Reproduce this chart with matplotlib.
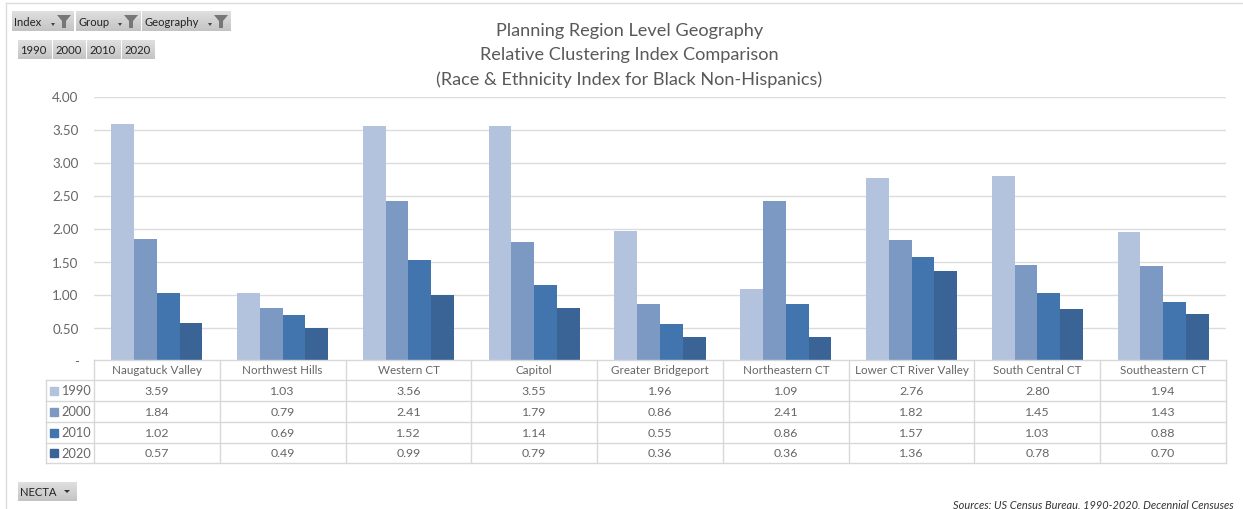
import matplotlib
matplotlib.use("Agg")
import matplotlib.pyplot as plt
from matplotlib.patches import Rectangle
import numpy as np

plt.rcParams['font.family'] = ['Lato', 'DejaVu Sans']

regions = ["Naugatuck Valley", "Northwest Hills", "Western CT", "Capitol", "Greater Bridgeport",
           "Northeastern CT", "Lower CT River Valley", "South Central CT", "Southeastern CT"]
years = ["1990", "2000", "2010", "2020"]
v1990 = [3.59, 1.03, 3.56, 3.55, 1.96, 1.09, 2.76, 2.80, 1.94]
v2000 = [1.84, 0.79, 2.41, 1.79, 0.86, 2.41, 1.82, 1.45, 1.43]
v2010 = [1.02, 0.69, 1.52, 1.14, 0.55, 0.86, 1.57, 1.03, 0.88]
v2020 = [0.57, 0.49, 0.99, 0.79, 0.36, 0.36, 1.36, 0.78, 0.70]
series = [v1990, v2000, v2010, v2020]
colors = ["#b3c3de", "#7c99c4", "#4274ae", "#3a6396"]
yticks = [0, 0.5, 1, 1.5, 2, 2.5, 3, 3.5, 4]
ytick_labels = ["-", "0.50", "1.00", "1.50", "2.00", "2.50", "3.00", "3.50", "4.00"]
title_lines = ["Planning Region Level Geography", "Relative Clustering Index Comparison",
               "(Race & Ethnicity Index for Black Non-Hispanics)"]
buttons_top = [("Index", 12, 74), ("Group", 76, 141), ("Geography", 142, 231)]
buttons_year = [("1990", 18, 52), ("2000", 53, 86), ("2010", 87, 121), ("2020", 122, 155)]

W, H = 1243, 510
fig = plt.figure(figsize=(W / 100, H / 100), dpi=100, facecolor="white")
TXT = "#666666"


def box(x, y, w, h):
    return [x / W, 1 - (y + h) / H, w / W, h / H]


L, R, T, B = 94, 1226, 97.5, 361.5
ax = fig.add_axes(box(L, T, R - L, B - T))
ax.set_xlim(0, len(regions))
ax.set_ylim(0, 4)
bar_w = 0.181
x = np.arange(len(regions))
for i, (s, c) in enumerate(zip(series, colors)):
    ax.bar(x + 0.5 + (i - 1.5) * bar_w, s, bar_w, color=c, zorder=3)
ax.set_yticks(yticks, ytick_labels)
ax.set_xticks([])
ax.tick_params(axis="y", length=0, labelsize=9.6, labelcolor=TXT, pad=11)
ax.grid(axis="y", color="#dcdcdc", lw=1, zorder=0)
for s in ax.spines.values():
    s.set_visible(False)

# Data table, drawn in a full-figure pixel overlay
ov = fig.add_axes([0, 0, 1, 1], facecolor="none")
ov.set_xlim(0, W)
ov.set_ylim(H, 0)
ov.axis("off")

col_w = (R - L) / len(regions)
rows = [361, 381, 402, 423, 444, 464]
LC = "#d8d8d8"
tL = 46
for xx in [L + col_w * k for k in range(len(regions) + 1)]:
    ov.plot([xx, xx], [rows[0], rows[-1]], color=LC, lw=1)
ov.plot([tL, tL], [rows[1], rows[-1]], color=LC, lw=1)
ov.plot([L, R], [rows[0], rows[0]], color=LC, lw=1)
for yy in rows[1:]:
    ov.plot([tL, R], [yy, yy], color=LC, lw=1)
for k, name in enumerate(regions):
    ov.text(L + col_w * (k + 0.5), (rows[0] + rows[1]) / 2, name, ha="center", va="center",
            fontsize=8.4, color=TXT)
    for r, s in enumerate(series):
        ov.text(L + col_w * (k + 0.5), (rows[r + 1] + rows[r + 2]) / 2, f"{s[k]:.2f}",
                ha="center", va="center", fontsize=8.9, color=TXT)
for r, (yr, c) in enumerate(zip(years, colors)):
    yc = (rows[r + 1] + rows[r + 2]) / 2
    ov.add_patch(Rectangle((50, yc - 4), 8, 8, color=c))
    ov.text(61, yc, yr, ha="left", va="center", fontsize=9.2, color=TXT)

# Titles
for line, yy in zip(title_lines, [31, 55, 80]):
    ov.text(629.5, yy, line, ha="center", va="center", fontsize=13.1, color="#595959")


def button(label, x0, x1, y0, y1, funnel=False, arrow=False):
    n = 12
    for j in range(n):
        g = 0.87 - 0.10 * j / (n - 1)
        ov.add_patch(Rectangle((x0, y0 + (y1 - y0) * j / n), x1 - x0, (y1 - y0) / n + 0.3,
                               color=(g, g, g), lw=0))
    ov.text(x0 + 2.5, (y0 + y1) / 2, label, ha="left", va="center", fontsize=8.1, color="#222222")
    if funnel:
        ov.fill([x1 - 17, x1 - 3, x1 - 8, x1 - 8, x1 - 12, x1 - 12],
                [y0 + 4, y0 + 4, y0 + 10, y1 - 3, y1 - 3, y0 + 10], color="#777777", lw=0)
        ov.fill([x1 - 23, x1 - 19, x1 - 21], [y1 - 8, y1 - 8, y1 - 5], color="#444444", lw=0)
    if arrow:
        ov.fill([x1 - 13, x1 - 7, x1 - 10], [y0 + 8, y0 + 8, y0 + 11], color="#333333", lw=0)


for lab, a, b in buttons_top:
    button(lab, a, b, 12, 32, funnel=True)
for lab, a, b in buttons_year:
    button(lab, a, b, 41, 60)
button("NECTA", 18, 77, 483, 502, arrow=True)

ov.text(1234, 505, "Sources: US Census Bureau, 1990-2020, Decennial Censuses", ha="right", va="center",
        fontsize=7.9, style="italic", color="#333333")
ov.plot([6, 6], [4, 510], color="#dcdcdc", lw=1)
ov.plot([6, 1243], [4, 4], color="#dcdcdc", lw=1)

fig.savefig("out.png", dpi=100)
